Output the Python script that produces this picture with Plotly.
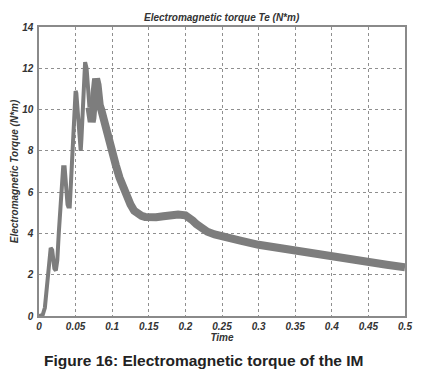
import plotly.graph_objects as go

time = [0, 0.003, 0.005, 0.008, 0.010, 0.012, 0.014, 0.016, 0.018, 0.020, 0.021, 0.023, 0.025,
        0.027, 0.030, 0.032, 0.033, 0.035, 0.036, 0.037, 0.039, 0.040, 0.042, 0.043, 0.045,
        0.047, 0.048, 0.050, 0.051, 0.052, 0.054, 0.055, 0.057, 0.058, 0.060, 0.062, 0.063,
        0.065, 0.066, 0.067, 0.069, 0.070, 0.072, 0.073, 0.075, 0.077, 0.078, 0.080, 0.081,
        0.083, 0.085, 0.087, 0.090, 0.093, 0.095, 0.098, 0.100, 0.105, 0.110, 0.115, 0.120,
        0.125, 0.130, 0.135, 0.140, 0.145, 0.150, 0.160, 0.170, 0.180, 0.190, 0.200, 0.205,
        0.210, 0.215, 0.220, 0.230, 0.240, 0.250, 0.275, 0.300, 0.325, 0.350, 0.375, 0.400,
        0.425, 0.450, 0.475, 0.500]
torque = [0, 0.02, 0.05, 0.4, 1.1, 2.0, 2.8, 3.3, 3.2, 2.7, 2.3, 2.2, 2.7,
          4.0, 6.0, 6.9, 7.2, 7.2, 6.6, 6.0, 5.4, 5.3, 5.3, 6.0, 7.5,
          8.8, 9.5, 10.9, 10.8, 10.3, 9.5, 8.8, 8.0, 8.6, 9.8, 11.5, 12.3,
          12.0, 11.5, 10.9, 10.1, 9.8, 9.4, 9.6, 10.5, 11.3, 11.5, 11.2, 10.6,
          10.2, 10.0, 9.7, 9.3, 9.0, 8.8, 8.4, 8.0, 7.3, 6.7, 6.2, 5.8,
          5.4, 5.1, 4.95, 4.85, 4.8, 4.78, 4.78, 4.83, 4.88, 4.92, 4.88, 4.78,
          4.62, 4.45, 4.3, 4.08, 3.95, 3.85, 3.65, 3.45, 3.3, 3.15, 3.0, 2.87,
          2.73, 2.6, 2.48, 2.36]

x_ticks = [0, 0.05, 0.1, 0.15, 0.2, 0.25, 0.3, 0.35, 0.4, 0.45, 0.5]
x_tick_labels = ["0", "0.05", "0.1", "0.15", "0.2", "0.25", "0.3", "0.35", "0.4", "0.45", "0.5"]
y_ticks = [0, 2, 4, 6, 8, 10, 12, 14]
y_tick_labels = ["0", "2", "4", "6", "8", "10", "12", "14"]

FONT = "Liberation Sans, Arial"
small_font = dict(family=FONT, size=10, color="#333333", style="italic", weight="bold")

# thinner start-up part, thicker (noisy) band afterwards
split = time.index(0.069)
fig = go.Figure()
fig.add_trace(go.Scatter(x=time[:split + 1], y=torque[:split + 1], mode="lines",
                         line=dict(color="#7d7d7d", width=4),
                         showlegend=False, hoverinfo="skip"))
fig.add_trace(go.Scatter(x=time[split:], y=torque[split:], mode="lines",
                         line=dict(color="#7d7d7d", width=8),
                         showlegend=False, hoverinfo="skip"))

axis_common = dict(showline=True, linecolor="#8a8a8a", linewidth=1.5, mirror=True,
                   showgrid=True, gridcolor="#8f8f8f", griddash="dot", gridwidth=1,
                   zeroline=False, ticks="", automargin=False,
                   tickfont=small_font)

# page body adds an 8px margin, so the figure is sized to compensate
fig.update_layout(
    width=428, height=383,
    margin=dict(l=31, r=31, t=19, b=75),
    paper_bgcolor="white", plot_bgcolor="white",
    xaxis=dict(range=[0, 0.5], tickvals=x_ticks, ticktext=x_tick_labels,
               ticklabelstandoff=0,
               title=dict(text="Time", standoff=0, font=small_font),
               **axis_common),
    yaxis=dict(range=[0, 14], tickvals=y_ticks, ticktext=y_tick_labels,
               ticklabelstandoff=2,
               title=dict(text="Electromagnetic Torque (N*m)", standoff=2, font=small_font),
               **axis_common),
    annotations=[
        dict(text="Electromagnetic torque Te (N*m)", xref="paper", yref="paper",
             x=0.5, y=1.0, yanchor="bottom", yshift=2, showarrow=False,
             font=small_font),
        dict(text="<b>Figure 16: Electromagnetic torque of the IM</b>", xref="paper", yref="paper",
             x=0.45, y=0, yanchor="top", yshift=-34, showarrow=False,
             font=dict(family=FONT, size=15.5, color="#222222")),
    ],
)

fig.write_html("out.html")
